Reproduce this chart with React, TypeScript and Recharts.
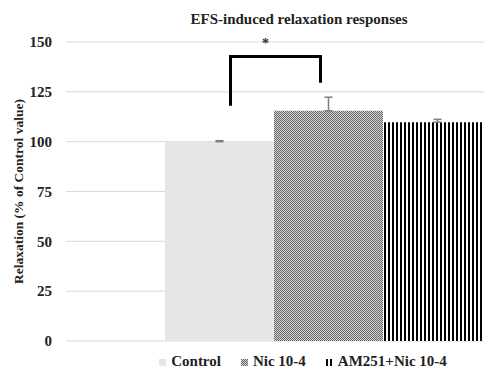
import { Bar, BarChart, CartesianGrid, ErrorBar, XAxis, YAxis } from 'recharts'

const categories = ['']
const seriesNames = ['Control', 'Nic 10-4', 'AM251+Nic 10-4']
const means = [100, 115.5, 109.8]
const upperErrors = [0.5, 6.8, 1.4]
const yTicks = [0, 25, 50, 75, 100, 125, 150]
// significance bracket: left foot, top, right foot (in axis units)
const bracketLevels = [118, 142.7, 129.6]
const starLevel = 150.3

const serif = "'Liberation Serif', 'Times New Roman', serif"
const fills = ['#e7e6e6', 'url(#checker)', 'url(#vstripes)']

const data = categories.map((name, c) => ({
    name,
    control: means[0],
    nic: means[1],
    am: means[2],
    controlErr: [0, upperErrors[0]],
    nicErr: [0, upperErrors[1]],
    amErr: [0, upperErrors[2]],
    key: c,
}))

const NicShape = (props: any) => {
    const { x, y, width, height, value } = props
    const v = Array.isArray(value) ? value[1] : value
    const k = height / v
    const base = y + height
    const yOf = (d: number) => base - d * k
    const lx = x - width / 2 + 11
    const rx = x + width / 2 - 8
    return (
        <g>
            <rect x={x} y={y} width={width} height={height} fill={fills[1]} />
            <path
                d={`M${lx},${yOf(bracketLevels[0])} V${yOf(bracketLevels[1])} H${rx} V${yOf(bracketLevels[2])}`}
                stroke={'#000'}
                strokeWidth={3}
                fill={'none'}
            />
            <text
                x={lx + 35}
                y={yOf(starLevel) + 7}
                textAnchor={'middle'}
                fontFamily={serif}
                fontWeight={'bold'}
                fontSize={14}
                fill={'#333'}
            >
                *
            </text>
        </g>
    )
}

const Swatch = ({ i }: { i: number }) => (
    <svg width={7} height={7} style={{ marginRight: 5, marginTop: 2 }}>
        <rect width={7} height={7} fill={fills[i]} />
    </svg>
)

export default function App() {
    return (
        <div
            style={{
                position: 'absolute',
                left: 0,
                top: 0,
                width: 484,
                height: 371,
                overflow: 'hidden',
                background: '#fff',
                fontFamily: serif,
            }}
        >
            <div
                style={{
                    position: 'absolute',
                    left: 149,
                    top: 10,
                    width: 300,
                    textAlign: 'center',
                    fontWeight: 'bold',
                    fontSize: 15,
                    lineHeight: '18px',
                    color: '#222',
                    whiteSpace: 'nowrap',
                }}
            >
                EFS-induced relaxation responses
            </div>
            <BarChart
                width={600}
                height={371}
                data={data}
                margin={{ top: 42, right: 9, bottom: 30, left: 0 }}
                barGap={0}
                barSize={109}
            >
                <defs>
                    <pattern id={'checker'} width={2} height={2} patternUnits={'userSpaceOnUse'}>
                        <rect width={2} height={2} fill={'#d4d4d4'} />
                        <rect width={1} height={1} fill={'#666'} />
                        <rect x={1} y={1} width={1} height={1} fill={'#666'} />
                    </pattern>
                    <pattern id={'vstripes'} width={4} height={4} patternUnits={'userSpaceOnUse'}>
                        <rect width={4} height={4} fill={'#fff'} />
                        <rect width={2} height={4} fill={'#000'} />
                    </pattern>
                </defs>
                <CartesianGrid vertical={false} stroke={'#d9d9d9'} strokeWidth={1} />
                <XAxis dataKey={'name'} hide />
                <YAxis
                    width={66}
                    domain={[0, 150]}
                    ticks={yTicks}
                    interval={0}
                    tickLine={false}
                    axisLine={false}
                    tickSize={0}
                    tickMargin={14}
                    tick={{ fill: '#222', fontFamily: serif, fontWeight: 'bold', fontSize: 15 }}
                    label={{
                        content: ({ viewBox }: any) => {
                            const cy = viewBox.y + viewBox.height / 2
                            return (
                                <text
                                    x={18}
                                    y={cy}
                                    transform={`rotate(-90, 18, ${cy})`}
                                    textAnchor={'middle'}
                                    dominantBaseline={'central'}
                                    fontFamily={serif}
                                    fontWeight={'bold'}
                                    fontSize={13.5}
                                    fill={'#222'}
                                >
                                    Relaxation (% of Control value)
                                </text>
                            )
                        },
                    }}
                />
                <Bar dataKey={'control'} fill={fills[0]} isAnimationActive={false}>
                    <ErrorBar dataKey={'controlErr'} width={4} stroke={'#7f7f7f'} strokeWidth={1.5} />
                </Bar>
                <Bar dataKey={'nic'} fill={fills[1]} shape={NicShape} isAnimationActive={false}>
                    <ErrorBar dataKey={'nicErr'} width={4} stroke={'#7f7f7f'} strokeWidth={1.5} />
                </Bar>
                <Bar dataKey={'am'} fill={fills[2]} isAnimationActive={false}>
                    <ErrorBar dataKey={'amErr'} width={4} stroke={'#7f7f7f'} strokeWidth={1.5} />
                </Bar>
            </BarChart>
            <div
                style={{
                    position: 'absolute',
                    left: 0,
                    top: 352,
                    width: 606,
                    display: 'flex',
                    justifyContent: 'center',
                    alignItems: 'center',
                    fontWeight: 'bold',
                    fontSize: 15,
                    lineHeight: '18px',
                    color: '#222',
                    whiteSpace: 'nowrap',
                }}
            >
                {seriesNames.map((s, i) => (
                    <span key={s} style={{ display: 'flex', alignItems: 'center', marginRight: i < 2 ? 20 : 0 }}>
                        <Swatch i={i} />
                        {s}
                    </span>
                ))}
            </div>
        </div>
    )
}
